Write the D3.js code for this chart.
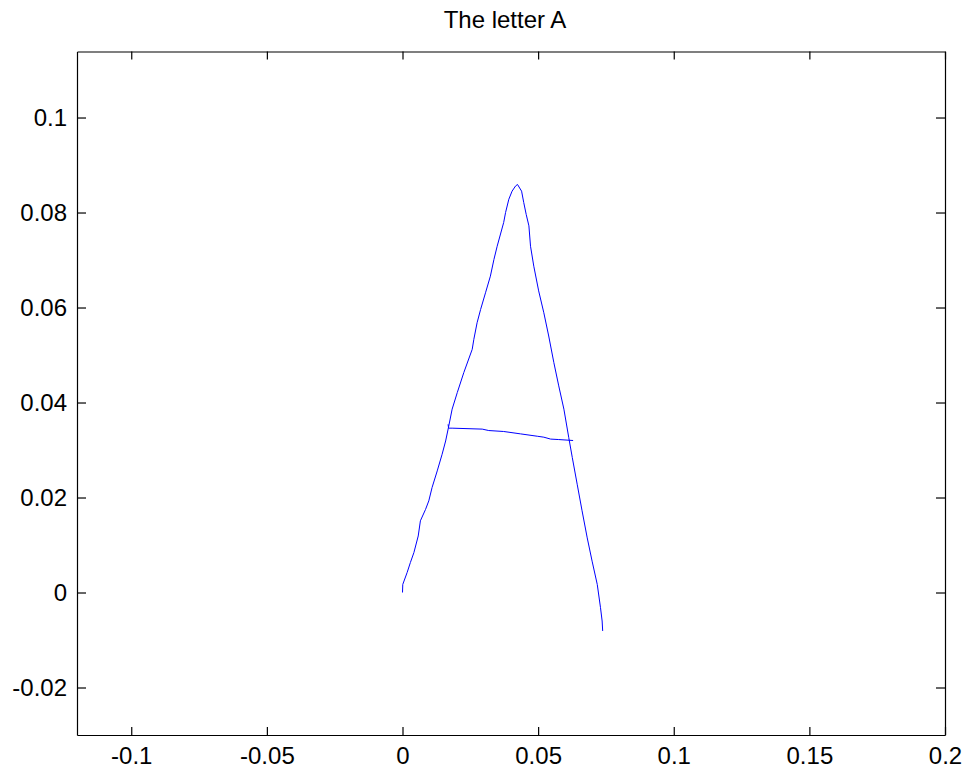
<!doctype html>
<html>
  <head>
    <meta charset="utf-8">
    <title>The letter A</title>
    <style>
    body {
      margin: 0;
      background-color: #ffffff;
      font-family: 'Liberation Sans', Arial, sans-serif;
    }
    .axis text {
      font-family: 'Liberation Sans', Arial, sans-serif;
      font-size: 24px;
      fill: #000;
    }
    .axis path, .axis line {
      stroke: #000;
      stroke-width: 1.2;
    }
    </style>
    <script src="https://cdnjs.cloudflare.com/ajax/libs/d3/7.8.5/d3.min.js"></script>
  </head>
  <body>
    <div id="chart"></div>

    <script>

      // data: the two pen strokes of the letter
      // stroke 1 goes up the left leg, over the top and down the right leg
      const strokeX = [0, 0.0001, 0.0017, 0.0029, 0.0042, 0.0058, 0.0066, 0.0085, 0.0097, 0.0109,
        0.0128, 0.0146, 0.0159, 0.0170, 0.0183, 0.0202, 0.0226, 0.0257, 0.0263, 0.0275,
        0.0288, 0.0306, 0.0324, 0.0337, 0.0349, 0.0373, 0.0380, 0.0392, 0.0404, 0.0417,
        0.0424, 0.0439, 0.0447, 0.0456, 0.0466, 0.0472, 0.0484, 0.0502, 0.0521, 0.0539,
        0.0558, 0.0576, 0.0595, 0.0613, 0.0626, 0.0644, 0.0662, 0.0681, 0.0699, 0.0718,
        0.0730, 0.0736, 0.0738];
      const strokeY = [0, 0.0017, 0.0042, 0.0063, 0.0084, 0.0119, 0.0151, 0.0175, 0.0193, 0.0221,
        0.0256, 0.0291, 0.0319, 0.0349, 0.0386, 0.0421, 0.0463, 0.0512, 0.0533, 0.0568,
        0.0596, 0.0631, 0.0666, 0.0701, 0.0729, 0.0779, 0.0800, 0.0828, 0.0845, 0.0856,
        0.0859, 0.0845, 0.0821, 0.0796, 0.0772, 0.0729, 0.0687, 0.0635, 0.0589, 0.0540,
        0.0484, 0.0435, 0.0386, 0.0326, 0.0284, 0.0228, 0.0172, 0.0115, 0.0066, 0.0017,
        -0.0032, -0.0060, -0.0081];

      // stroke 2 is the cross bar
      const barX = [0.0168, 0.0170, 0.0183, 0.0294, 0.0318, 0.0373, 0.0435, 0.0497, 0.0521, 0.0546, 0.0576, 0.0629];
      const barY = [0.0354, 0.0346, 0.0346, 0.0344, 0.0341, 0.0339, 0.0334, 0.0329, 0.0327, 0.0323, 0.0322, 0.0320];

      // axis limits and ticks
      const xLimits = [-0.12, 0.2];
      const yLimits = [-0.03, 0.1139];
      const xTicks = [-0.1, -0.05, 0, 0.05, 0.1, 0.15, 0.2];
      const yTicks = [-0.02, 0, 0.02, 0.04, 0.06, 0.08, 0.1];

      const width = 966, height = 771;
      const margin = {top: 51.5, right: 21, bottom: 36, left: 77};
      const innerW = width - margin.left - margin.right;
      const innerH = height - margin.top - margin.bottom;

      const x = d3.scaleLinear().domain(xLimits).range([0, innerW]);
      const y = d3.scaleLinear().domain(yLimits).range([innerH, 0]);

      const svg = d3.select('#chart')
        .append('svg')
        .attr('width', width)
        .attr('height', height);

      const g = svg.append('g')
        .attr('transform', `translate(${margin.left},${margin.top})`);

      // matlab style number labels, no trailing zeros
      const fmt = d => String(+d.toFixed(4));

      // axes: ticks point inwards
      g.append('g')
        .attr('class', 'axis')
        .attr('transform', `translate(0,${innerH})`)
        .call(d3.axisBottom(x).tickValues(xTicks).tickFormat(fmt).tickSize(-8).tickSizeOuter(0).tickPadding(12));

      g.append('g')
        .attr('class', 'axis')
        .call(d3.axisLeft(y).tickValues(yTicks).tickFormat(fmt).tickSize(-9).tickSizeOuter(0).tickPadding(10));

      g.append('g')
        .attr('class', 'axis')
        .call(d3.axisTop(x).tickValues(xTicks).tickFormat('').tickSize(-8).tickSizeOuter(0));

      g.append('g')
        .attr('class', 'axis')
        .attr('transform', `translate(${innerW},0)`)
        .call(d3.axisRight(y).tickValues(yTicks).tickFormat('').tickSize(-9).tickSizeOuter(0));

      // the strokes
      const line = d3.line()
        .x(d => x(d[0]))
        .y(d => y(d[1]));

      const strokes = [
        d3.zip(strokeX, strokeY),
        d3.zip(barX, barY)
      ];

      g.selectAll('path.stroke')
        .data(strokes)
        .join('path')
        .attr('class', 'stroke')
        .attr('d', line)
        .attr('fill', 'none')
        .attr('stroke', '#0000ff')
        .attr('stroke-width', 1);

      // title
      svg.append('text')
        .attr('x', margin.left + innerW / 2 - 6)
        .attr('y', 28)
        .attr('text-anchor', 'middle')
        .style('font-size', '24px')
        .text('The letter A');

    </script>
  </body>
</html>
